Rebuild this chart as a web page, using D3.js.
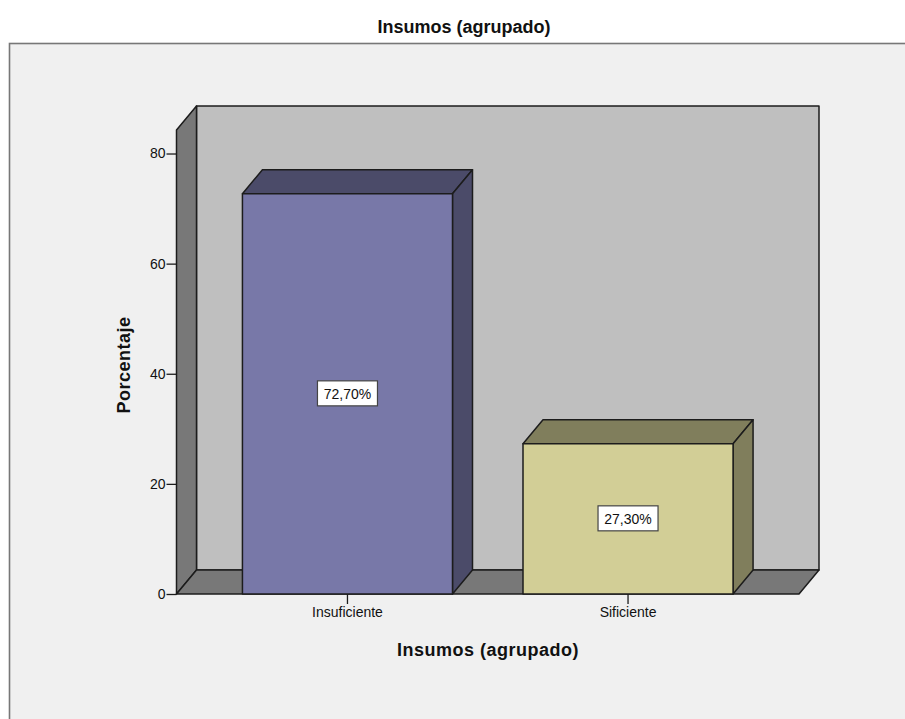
<!DOCTYPE html>
<html><head><meta charset="utf-8">
<script src="https://cdnjs.cloudflare.com/ajax/libs/d3/7.8.5/d3.min.js"></script>
<style>html,body{margin:0;padding:0;background:#fff}svg{display:block}text{font-family:"Liberation Sans",Arial,sans-serif;fill:#111}</style>
</head><body><svg id="c" width="905" height="719"></svg>
<script>
const categories = ["Insuficiente", "Sificiente"];
const values = [72.7, 27.3];
const valueLabels = ["72,70%", "27,30%"];
const yTicks = [0, 20, 40, 60, 80];
const frontColors = ["#7878a8", "#d2ce96"];
const sideColors = ["#4b4b69", "#807e5c"];
const topColors = ["#4b4b69", "#807e5c"];

const svg = d3.select("#c");
const dx = 20, dy = -24;
const x = d3.scaleBand().domain(categories).range([176.5, 799]).paddingInner(0.2513).paddingOuter(0.235);
const y = d3.scaleLinear().domain([0, 84.27]).range([594, 130]);
const line = "#1c1c1c";
const pts = p => p.map(d => d.join(",")).join(" ");

// frame
svg.append("rect").attr("x", 9.5).attr("y", 43.5).attr("width", 905).attr("height", 700)
  .attr("fill", "#f0f0f0").attr("stroke", "#777").attr("stroke-width", 1.6);

// walls
const x0 = x.range()[0], x1 = x.range()[1], yB = y(0), yT = y.range()[1];
const wall = (p, f) => svg.append("polygon").attr("points", pts(p)).attr("fill", f)
  .attr("stroke", line).attr("stroke-width", 1.5).attr("stroke-linejoin", "round");
wall([[x0+dx,yB+dy],[x1+dx,yB+dy],[x1+dx,yT+dy],[x0+dx,yT+dy]], "#bfbfbf");
wall([[x0,yB],[x0+dx,yB+dy],[x0+dx,yT+dy],[x0,yT]], "#787878");
wall([[x0,yB],[x1,yB],[x1+dx,yB+dy],[x0+dx,yB+dy]], "#787878");

// bars
const bars = svg.selectAll("g.bar").data(categories).join("g").attr("class", "bar");
bars.each(function(c, i) {
  const g = d3.select(this), l = x(c), r = l + x.bandwidth(), t = y(values[i]);
  const face = (p, f) => g.append("polygon").attr("points", pts(p)).attr("fill", f)
    .attr("stroke", line).attr("stroke-width", 1.5).attr("stroke-linejoin", "round");
  face([[l,t],[l+dx,t+dy],[r+dx,t+dy],[r,t]], topColors[i]);
  face([[r,t],[r+dx,t+dy],[r+dx,yB+dy],[r,yB]], sideColors[i]);
  face([[l,t],[r,t],[r,yB],[l,yB]], frontColors[i]);
  const cx = (l + r) / 2, cy = (t + yB) / 2;
  g.append("rect").attr("x", cx - 30).attr("y", cy - 13).attr("width", 60).attr("height", 25)
    .attr("fill", "#fff").attr("stroke", "#444").attr("stroke-width", 1.2);
  g.append("text").attr("x", cx).attr("y", cy + 5).attr("text-anchor", "middle")
    .attr("font-size", 14).text(valueLabels[i]);
});

// axes
const yAxis = d3.axisLeft(y).tickValues(yTicks).tickSize(10).tickPadding(1).tickFormat(d3.format("d"));
const gy = svg.append("g").attr("transform", `translate(${x0},0)`).call(yAxis);
gy.select(".domain").remove();
gy.selectAll("line").attr("stroke", line).attr("stroke-width", 1.3);
gy.selectAll("text").attr("font-size", 14).attr("fill", "#222").style("font-family", '"Liberation Sans",Arial,sans-serif');

const xAxis = d3.axisBottom(x).tickSize(10).tickPadding(3);
const gx = svg.append("g").attr("transform", `translate(0,${yB})`).call(xAxis);
gx.select(".domain").remove();
gx.selectAll("line").attr("stroke", line).attr("stroke-width", 1.3);
gx.selectAll("text").attr("font-size", 14).attr("fill", "#222").style("font-family", '"Liberation Sans",Arial,sans-serif');

// titles
svg.append("text").attr("x", 464).attr("y", 33).attr("text-anchor", "middle")
  .attr("font-size", 18).attr("font-weight", "bold").text("Insumos (agrupado)");
svg.append("text").attr("x", 488).attr("y", 656).attr("text-anchor", "middle")
  .attr("font-size", 18).attr("font-weight", "bold").style("letter-spacing", "0.5px").text("Insumos (agrupado)");
svg.append("text").attr("transform", "translate(130,365) rotate(-90)").attr("text-anchor", "middle")
  .attr("font-size", 18).attr("font-weight", "bold").style("letter-spacing", "0.5px").text("Porcentaje");
</script></body></html>
